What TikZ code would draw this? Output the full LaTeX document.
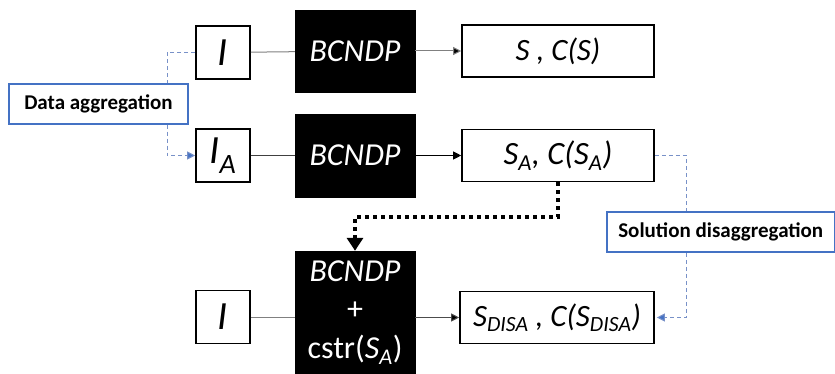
\documentclass[tikz,border=0pt]{standalone}
\usepackage{fontspec}
\setmainfont{Carlito}
\usetikzlibrary{arrows.meta}
\definecolor{aggblue}{RGB}{68,114,196}
\definecolor{dashblue}{RGB}{120,145,200}
\begin{document}
\begin{tikzpicture}[x=1pt,y=-1pt,
  inbox/.style={draw=black,line width=1.6pt,fill=white,minimum width=54pt,minimum height=53pt,inner sep=0pt,font=\fontsize{40}{44}\selectfont\itshape},
  blackbox/.style={draw=black,fill=black,text=white,minimum width=120pt,inner sep=0pt,font=\fontsize{32}{38.5}\selectfont\itshape,align=center},
  outbox/.style={draw=black,line width=1.6pt,fill=white,minimum width=192pt,minimum height=52pt,inner sep=0pt,font=\fontsize{32.5}{36}\selectfont\itshape},
  labelbox/.style={draw=aggblue,line width=1.5pt,fill=white,inner sep=0pt,minimum height=40pt,font=\fontsize{21}{25}\selectfont\bfseries},
  conn/.style={line width=1pt},
  arr/.style={conn,-{Triangle[width=8pt,length=8pt]}},
  dashconn/.style={draw=dashblue,line width=1pt,dash pattern=on 4pt off 3pt},
  dasharr/.style={dashconn,-{Triangle[width=8pt,length=8pt,fill=aggblue]}}
]
\useasboundingbox (0,0) rectangle (835,374);

% row 1
\node[inbox] (i1) at (223,52.5) {I};
\node[blackbox,minimum height=82pt] (b1) at (355,51) {BCNDP};
\node[outbox,font=\fontsize{31}{34}\selectfont\itshape] (o1) at (558,51) {S , C(S)};
% row 2
\node[inbox] (i2) at (223,155.5) {I\textsubscript{A}};
\node[blackbox,minimum height=83pt] (b2) at (355,155.5) {BCNDP};
\node[outbox] (o2) at (558,155.5) {S\textsubscript{A}, C(S\textsubscript{A})};
% row 3
\node[inbox] (i3) at (223,317) {I};
\node[blackbox,minimum height=123pt] (b3) at (355,312.5) {BCNDP\\\upshape +\\\upshape cstr(\itshape S\textsubscript{A}\upshape)};
\node[outbox,minimum width=194pt,font=\fontsize{31}{34}\selectfont\itshape] (o3) at (557,317.5) {S\textsubscript{DISA} , C(S\textsubscript{DISA})};

% labels
\node[labelbox,minimum width=179pt] (da) at (98.5,104) {Data aggregation};
\node[labelbox,minimum width=228pt,anchor=west] (sd) at (606,232) {Solution disaggregation};

% solid connectors
\draw[conn,draw=gray] (i1) -- (b1);
\draw[arr,draw=gray,-{Triangle[width=8pt,length=8pt,fill=black]}] (b1) -- (o1);
\draw[conn,draw=black!75] (i2) -- (b2);
\draw[arr] (b2) -- (o2);
\draw[conn,draw=gray] (i3) -- (b3.west |- i3);
\draw[arr,draw=black!70,-{Triangle[width=8pt,length=8pt,fill=black]}] (b3.east |- o3) -- (o3);

% dashed connectors
\coordinate (dax) at (167,0);
\draw[dashconn] (i1.west) -- (dax |- i1.west) -- (dax |- da.north);
\draw[dasharr] (dax |- da.south) -- (dax |- i2.west) -- (i2.west);
\coordinate (sdx) at (686,0);
\draw[dashconn] (o2.east) -- (sdx |- o2.east) -- (sdx |- sd.north);
\draw[dasharr] (sdx |- sd.south) -- (sdx |- o3.east) -- ([xshift=2pt]o3.east);

% dotted thick connector
\coordinate (dy) at (0,217);
\draw[line width=4pt,dash pattern=on 4pt off 4pt,-{Triangle[width=16pt,length=13pt]}]
  (o2.south) -- (o2.south |- dy) -- (b3.north |- dy) -- (b3.north);
\end{tikzpicture}
\end{document}
